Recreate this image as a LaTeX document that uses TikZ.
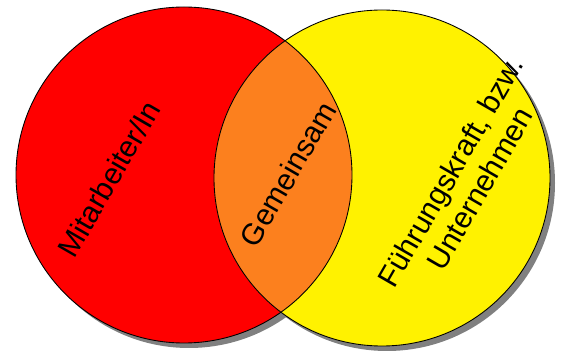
\documentclass[tikz,border=0pt]{standalone}
\usepackage{fontspec}
\setmainfont{Liberation Sans}
\definecolor{gemorange}{RGB}{252,128,30}
\definecolor{shadowgray}{RGB}{128,128,128}

\begin{document}
\begin{tikzpicture}[x=0.02cm, y=-0.02cm,
	venntext/.style={font=\fontsize{17}{19.3}\selectfont, rotate=60, align=center, inner sep=0pt},
	ring/.style={draw=black, line width=0.5pt}]
	\useasboundingbox (0,0) rectangle (565,351);

	\fill[shadowgray] (189,180) circle[radius=168];
	\fill[shadowgray] (387,183) circle[radius=168];

	\fill[red] (184,175) circle[radius=168];
	\fill[yellow] (382,178) circle[radius=168];
	\begin{scope}
		\clip (184,175) circle[radius=168];
		\fill[gemorange] (382,178) circle[radius=168];
	\end{scope}
	\draw[ring] (184,175) circle[radius=168];
	\draw[ring] (382,178) circle[radius=168];

	\node[venntext] (mitarbeiter) at (109,179) {Mitarbeiter/In};
	\node[venntext] (gemeinsam) at (288,174) {Gemeinsam};
	\node[venntext] (fuehrung) at (465,180) {Führungskraft, bzw.\\Unternehmen};
\end{tikzpicture}
\end{document}
